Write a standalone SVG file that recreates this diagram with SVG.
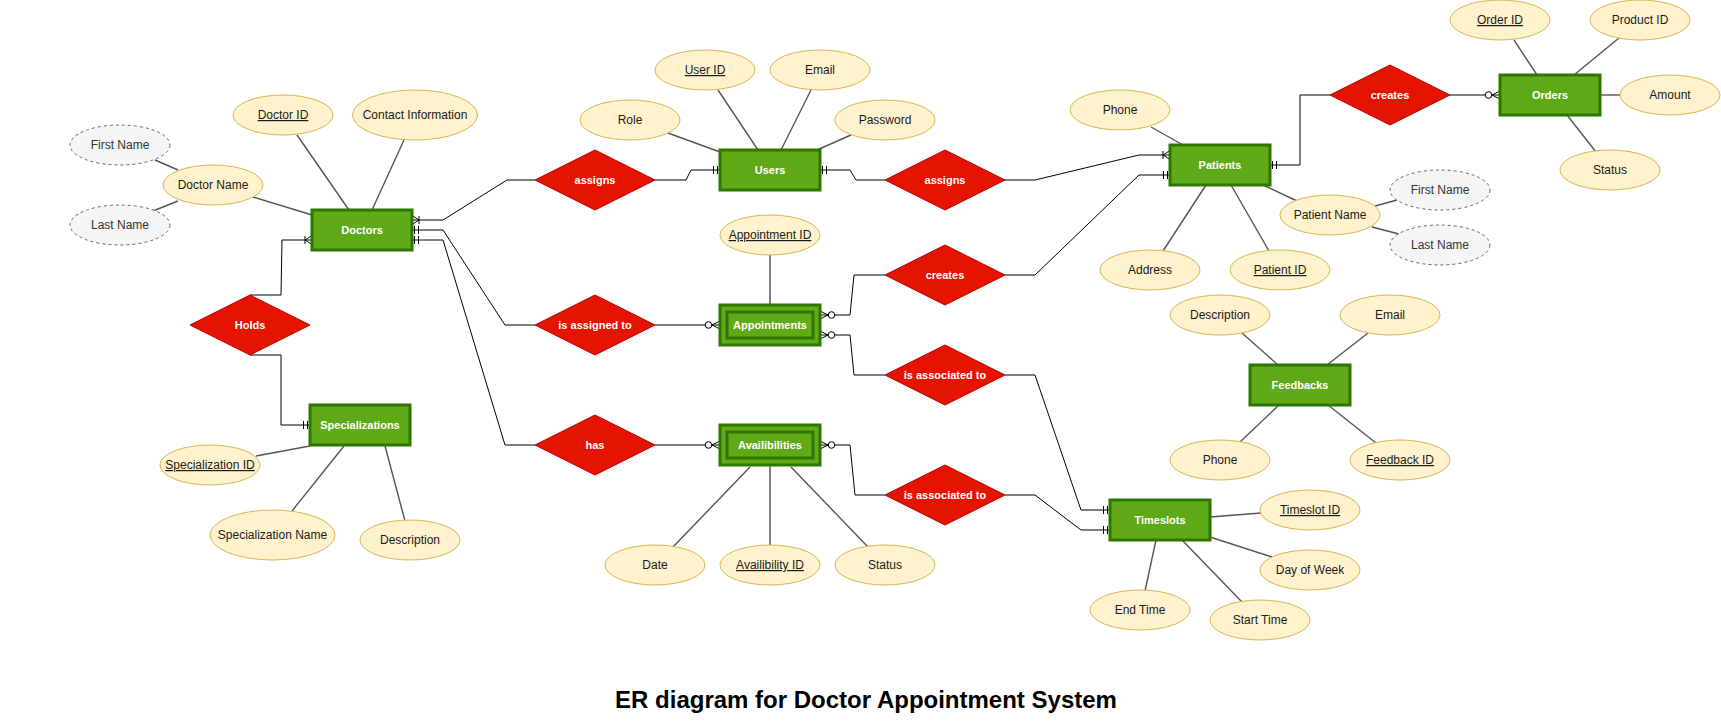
<svg xmlns="http://www.w3.org/2000/svg" width="1721" height="721" viewBox="0 0 1721 721">
<style>
.ent rect{fill:#60a917;stroke:#2d7600;stroke-width:3}
.ent text,.rel text{fill:#fff;font-family:"Liberation Sans",Arial,sans-serif;font-size:11px;font-weight:bold;text-anchor:middle}
.rel polygon{fill:#e51400;stroke:#b20000;stroke-width:1}
.att ellipse{fill:#fff2cc;stroke:#d6b656;stroke-width:1}
.cmp ellipse{fill:#f5f5f5;stroke:#666;stroke-width:1;stroke-dasharray:3 3}
.att text,.cmp text{font-family:"Liberation Sans",Arial,sans-serif;font-size:12px;text-anchor:middle;fill:#1a1a1a}
.cmp text{fill:#333}
.key{text-decoration:underline}
.al line{stroke:#555;stroke-width:1.4}
.al line.k{stroke:#000;stroke-width:1}
.cn path{fill:none;stroke:#000;stroke-width:1}
.title{font-family:"Liberation Sans",Arial,sans-serif;font-size:24px;font-weight:bold;text-anchor:middle;fill:#000}
</style>
<defs>
<marker id="m1" markerUnits="userSpaceOnUse" orient="auto" markerWidth="20" markerHeight="14" viewBox="-16 -7 20 14" refX="0" refY="0" overflow="visible">
<path d="M-2.5,-4V4M-6.5,-4V4" fill="none" stroke="#000" stroke-width="1"/>
</marker>
<marker id="m1n" markerUnits="userSpaceOnUse" orient="auto" markerWidth="20" markerHeight="14" viewBox="-16 -7 20 14" refX="0" refY="0" overflow="visible">
<path d="M0,-4.5L-7,0L0,4.5M-7,-4V4" fill="none" stroke="#000" stroke-width="1"/>
</marker>
<marker id="m0n" markerUnits="userSpaceOnUse" orient="auto" markerWidth="20" markerHeight="14" viewBox="-16 -7 20 14" refX="0" refY="0" overflow="visible">
<path d="M0,-4L-8,0L0,4" fill="none" stroke="#000" stroke-width="1"/>
<circle cx="-11.5" cy="0" r="3.3" fill="#fff" stroke="#000" stroke-width="1"/>
</marker>
</defs>
<rect width="1721" height="721" fill="#fff"/>

<g id="connectors" class="cn">
<path d="M535,180H507L443,220H412" marker-end="url(#m1n)"/>
<path d="M655,180H686L691,170H720" marker-end="url(#m1)"/>
<path d="M885,180H856L850,170H820" marker-end="url(#m1)"/>
<path d="M1005,180H1035L1139,155H1170" marker-end="url(#m1n)"/>
<path d="M535,325H505L443,230H412" marker-end="url(#m1)"/>
<path d="M655,325H720" marker-end="url(#m0n)"/>
<path d="M535,445H505L443,240H412" marker-end="url(#m1)"/>
<path d="M655,445H720" marker-end="url(#m0n)"/>
<path d="M250,295H281L282,240H312" marker-end="url(#m1n)"/>
<path d="M250,355H281V425H310" marker-end="url(#m1)"/>
<path d="M885,275H854L850,315H820" marker-end="url(#m0n)"/>
<path d="M1005,275H1035L1139,175H1170" marker-end="url(#m1)"/>
<path d="M885,375H854L850,335H820" marker-end="url(#m0n)"/>
<path d="M1005,375H1035L1081,510H1110" marker-end="url(#m1)"/>
<path d="M885,495H855L850,445H820" marker-end="url(#m0n)"/>
<path d="M1005,495H1035L1081,530H1110" marker-end="url(#m1)"/>
<path d="M1330,95H1300V165H1270" marker-end="url(#m1)"/>
<path d="M1450,95H1500" marker-end="url(#m0n)"/>
</g>

<g id="attribute-links" class="al">
<line x1="297" y1="135" x2="349" y2="210"/>
<line x1="404" y1="140" x2="372" y2="210"/>
<line x1="253" y1="197" x2="312" y2="215"/>
<line x1="155" y1="160" x2="178" y2="170"/>
<line x1="153" y1="211" x2="178" y2="201"/>
<line x1="668" y1="133" x2="720" y2="152"/>
<line x1="718" y1="90" x2="758" y2="150"/>
<line x1="811" y1="90" x2="781" y2="150"/>
<line x1="851" y1="135" x2="817" y2="150"/>
<line class="k" x1="770" y1="255" x2="770" y2="305"/>
<line x1="673" y1="547" x2="750" y2="467"/>
<line class="k" x1="770" y1="545" x2="770" y2="465"/>
<line x1="791" y1="467" x2="868" y2="547"/>
<line x1="256" y1="456" x2="310" y2="446"/>
<line x1="292" y1="511" x2="344" y2="446"/>
<line x1="405" y1="521" x2="385" y2="446"/>
<line x1="1151" y1="127" x2="1183" y2="145"/>
<line x1="1206" y1="185" x2="1163" y2="251"/>
<line x1="1231" y1="185" x2="1269" y2="251"/>
<line x1="1263" y1="185" x2="1297" y2="201"/>
<line x1="1397" y1="200" x2="1375" y2="206"/>
<line x1="1399" y1="234" x2="1372" y2="227"/>
<line x1="1514" y1="40" x2="1537" y2="75"/>
<line x1="1619" y1="38" x2="1574" y2="75"/>
<line x1="1600" y1="95" x2="1620" y2="95"/>
<line x1="1567" y1="115" x2="1596" y2="152"/>
<line x1="1242" y1="333" x2="1278" y2="365"/>
<line x1="1368" y1="333" x2="1327" y2="365"/>
<line x1="1240" y1="442" x2="1279" y2="405"/>
<line x1="1376" y1="443" x2="1328" y2="405"/>
<line x1="1210" y1="517" x2="1261" y2="513"/>
<line x1="1210" y1="537" x2="1272" y2="557"/>
<line x1="1156" y1="540" x2="1145" y2="591"/>
<line x1="1182" y1="540" x2="1242" y2="602"/>
</g>

<g id="doctors" class="ent"><rect x="312" y="210" width="100" height="40"/><text x="362" y="234">Doctors</text></g>
<g id="users" class="ent"><rect x="720" y="150" width="100" height="40"/><text x="770" y="174">Users</text></g>
<g id="patients" class="ent"><rect x="1170" y="145" width="100" height="40"/><text x="1220" y="169">Patients</text></g>
<g id="orders" class="ent"><rect x="1500" y="75" width="100" height="40"/><text x="1550" y="99">Orders</text></g>
<g id="appointments" class="ent"><rect x="720" y="305" width="100" height="40"/><rect x="727" y="312" width="86" height="26"/><text x="770" y="329">Appointments</text></g>
<g id="availibilities" class="ent"><rect x="720" y="425" width="100" height="40"/><rect x="727" y="432" width="86" height="26"/><text x="770" y="449">Availibilities</text></g>
<g id="timeslots" class="ent"><rect x="1110" y="500" width="100" height="40"/><text x="1160" y="524">Timeslots</text></g>
<g id="feedbacks" class="ent"><rect x="1250" y="365" width="100" height="40"/><text x="1300" y="389">Feedbacks</text></g>
<g id="specializations" class="ent"><rect x="310" y="405" width="100" height="40"/><text x="360" y="429">Specializations</text></g>

<g id="rel-assigns-1" class="rel"><polygon points="535,180 595,150 655,180 595,210"/><text x="595" y="184">assigns</text></g>
<g id="rel-assigns-2" class="rel"><polygon points="885,180 945,150 1005,180 945,210"/><text x="945" y="184">assigns</text></g>
<g id="rel-is-assigned-to" class="rel"><polygon points="535,325 595,295 655,325 595,355"/><text x="595" y="329">is assigned to</text></g>
<g id="rel-has" class="rel"><polygon points="535,445 595,415 655,445 595,475"/><text x="595" y="449">has</text></g>
<g id="rel-holds" class="rel"><polygon points="190,325 250,295 310,325 250,355"/><text x="250" y="329">Holds</text></g>
<g id="rel-creates-1" class="rel"><polygon points="885,275 945,245 1005,275 945,305"/><text x="945" y="279">creates</text></g>
<g id="rel-associated-1" class="rel"><polygon points="885,375 945,345 1005,375 945,405"/><text x="945" y="379">is associated to</text></g>
<g id="rel-associated-2" class="rel"><polygon points="885,495 945,465 1005,495 945,525"/><text x="945" y="499">is associated to</text></g>
<g id="rel-creates-2" class="rel"><polygon points="1330,95 1390,65 1450,95 1390,125"/><text x="1390" y="99">creates</text></g>

<g id="attr-doctor-id" class="att"><ellipse cx="283" cy="115" rx="50" ry="20"/><text class="key" x="283" y="119">Doctor ID</text></g>
<g id="attr-contact" class="att"><ellipse cx="415" cy="115" rx="62.5" ry="25"/><text x="415" y="119">Contact Information</text></g>
<g id="attr-doctor-name" class="att"><ellipse cx="213" cy="185" rx="50" ry="20"/><text x="213" y="189">Doctor Name</text></g>
<g id="attr-doctor-first" class="cmp"><ellipse cx="120" cy="145" rx="50" ry="20"/><text x="120" y="149">First Name</text></g>
<g id="attr-doctor-last" class="cmp"><ellipse cx="120" cy="225" rx="50" ry="20"/><text x="120" y="229">Last Name</text></g>
<g id="attr-role" class="att"><ellipse cx="630" cy="120" rx="50" ry="20"/><text x="630" y="124">Role</text></g>
<g id="attr-user-id" class="att"><ellipse cx="705" cy="70" rx="50" ry="20"/><text class="key" x="705" y="74">User ID</text></g>
<g id="attr-user-email" class="att"><ellipse cx="820" cy="70" rx="50" ry="20"/><text x="820" y="74">Email</text></g>
<g id="attr-password" class="att"><ellipse cx="885" cy="120" rx="50" ry="20"/><text x="885" y="124">Password</text></g>
<g id="attr-appointment-id" class="att"><ellipse cx="770" cy="235" rx="50" ry="20"/><text class="key" x="770" y="239">Appointment ID</text></g>
<g id="attr-date" class="att"><ellipse cx="655" cy="565" rx="50" ry="20"/><text x="655" y="569">Date</text></g>
<g id="attr-availibility-id" class="att"><ellipse cx="770" cy="565" rx="50" ry="20"/><text class="key" x="770" y="569">Availibility ID</text></g>
<g id="attr-avail-status" class="att"><ellipse cx="885" cy="565" rx="50" ry="20"/><text x="885" y="569">Status</text></g>
<g id="attr-spec-id" class="att"><ellipse cx="210" cy="465" rx="50" ry="20"/><text class="key" x="210" y="469">Specialization ID</text></g>
<g id="attr-spec-name" class="att"><ellipse cx="272.5" cy="535" rx="62.5" ry="25"/><text x="272.5" y="539">Specialization Name</text></g>
<g id="attr-spec-desc" class="att"><ellipse cx="410" cy="540" rx="50" ry="20"/><text x="410" y="544">Description</text></g>
<g id="attr-patient-phone" class="att"><ellipse cx="1120" cy="110" rx="50" ry="20"/><text x="1120" y="114">Phone</text></g>
<g id="attr-address" class="att"><ellipse cx="1150" cy="270" rx="50" ry="20"/><text x="1150" y="274">Address</text></g>
<g id="attr-patient-id" class="att"><ellipse cx="1280" cy="270" rx="50" ry="20"/><text class="key" x="1280" y="274">Patient ID</text></g>
<g id="attr-patient-name" class="att"><ellipse cx="1330" cy="215" rx="50" ry="20"/><text x="1330" y="219">Patient Name</text></g>
<g id="attr-patient-first" class="cmp"><ellipse cx="1440" cy="190" rx="50" ry="20"/><text x="1440" y="194">First Name</text></g>
<g id="attr-patient-last" class="cmp"><ellipse cx="1440" cy="245" rx="50" ry="20"/><text x="1440" y="249">Last Name</text></g>
<g id="attr-order-id" class="att"><ellipse cx="1500" cy="20" rx="50" ry="20"/><text class="key" x="1500" y="24">Order ID</text></g>
<g id="attr-product-id" class="att"><ellipse cx="1640" cy="20" rx="50" ry="20"/><text x="1640" y="24">Product ID</text></g>
<g id="attr-amount" class="att"><ellipse cx="1670" cy="95" rx="50" ry="20"/><text x="1670" y="99">Amount</text></g>
<g id="attr-order-status" class="att"><ellipse cx="1610" cy="170" rx="50" ry="20"/><text x="1610" y="174">Status</text></g>
<g id="attr-fb-desc" class="att"><ellipse cx="1220" cy="315" rx="50" ry="20"/><text x="1220" y="319">Description</text></g>
<g id="attr-fb-email" class="att"><ellipse cx="1390" cy="315" rx="50" ry="20"/><text x="1390" y="319">Email</text></g>
<g id="attr-fb-phone" class="att"><ellipse cx="1220" cy="460" rx="50" ry="20"/><text x="1220" y="464">Phone</text></g>
<g id="attr-feedback-id" class="att"><ellipse cx="1400" cy="460" rx="50" ry="20"/><text class="key" x="1400" y="464">Feedback ID</text></g>
<g id="attr-timeslot-id" class="att"><ellipse cx="1310" cy="510" rx="50" ry="20"/><text class="key" x="1310" y="514">Timeslot ID</text></g>
<g id="attr-day" class="att"><ellipse cx="1310" cy="570" rx="50" ry="20"/><text x="1310" y="574">Day of Week</text></g>
<g id="attr-end" class="att"><ellipse cx="1140" cy="610" rx="50" ry="20"/><text x="1140" y="614">End Time</text></g>
<g id="attr-start" class="att"><ellipse cx="1260" cy="620" rx="50" ry="20"/><text x="1260" y="624">Start Time</text></g>

<g id="title"><text class="title" x="866" y="708">ER diagram for Doctor Appointment System</text></g>
</svg>
